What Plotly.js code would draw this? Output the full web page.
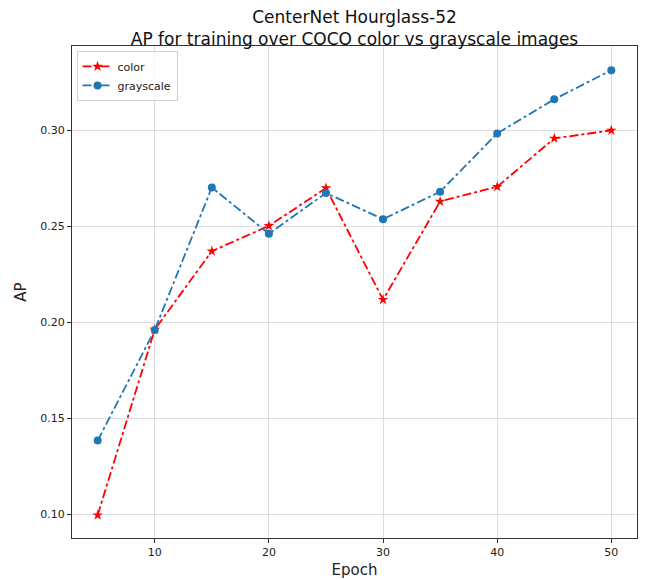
<!DOCTYPE html>
<html>
<head>
<meta charset="utf-8">
<script src="https://cdn.plot.ly/plotly-3.0.1.min.js"></script>
<style>html,body{margin:0;padding:0;background:#fff;}#chart{width:645px;height:580px;}</style>
</head>
<body>
<div id="chart"></div>
<script>
const epochs = [5, 10, 15, 20, 25, 30, 35, 40, 45, 50];
const colorAP = [0.0994, 0.1962, 0.2371, 0.2503, 0.2700, 0.2118, 0.2630, 0.2707, 0.2959, 0.3001];
const grayAP = [0.1383, 0.1960, 0.2703, 0.2462, 0.2674, 0.2538, 0.2681, 0.2985, 0.3163, 0.3315];
const seriesNames = ["color", "grayscale"];
const xTicks = [10, 20, 30, 40, 50];
const yTicks = [0.10, 0.15, 0.20, 0.25, 0.30];

const font = "DejaVu Sans, sans-serif";
const traces = [
  {
    x: epochs, y: colorAP, name: seriesNames[0], type: "scatter", mode: "lines+markers",
    line: {color: "#ff0000", width: 1.8, dash: "dashdot"},
    marker: {symbol: "star", size: 8, color: "#ff0000"}
  },
  {
    x: epochs, y: grayAP, name: seriesNames[1], type: "scatter", mode: "lines+markers",
    line: {color: "#1f77b4", width: 1.8, dash: "dashdot"},
    marker: {symbol: "circle", size: 8, color: "#1f77b4"}
  }
];

const layout = {
  width: 645, height: 580,
  margin: {l: 72, r: 8, t: 46, b: 42},
  paper_bgcolor: "#fff", plot_bgcolor: "#fff",
  font: {family: font, color: "#222"},
  title: {
    text: "CenterNet Hourglass-52<br>AP for training over COCO color vs grayscale images",
    font: {family: font, size: 17, color: "#111"},
    xref: "paper", x: 0.5, xanchor: "center",
    yref: "container", y: 0.96, yanchor: "top"
  },
  xaxis: {
    range: [2.75, 52.25], tickvals: xTicks, ticktext: xTicks.map(String),
    showgrid: true, gridcolor: "#dcdcdc", gridwidth: 1, zeroline: false,
    showline: true, linecolor: "#333", linewidth: 1, mirror: true,
    ticks: "outside", ticklen: 4, tickcolor: "#333",
    tickfont: {family: font, size: 11, color: "#222"},
    title: {text: "Epoch", font: {family: font, size: 15, color: "#222"}, standoff: 6}
  },
  yaxis: {
    range: [0.0875, 0.3441], tickvals: yTicks, ticktext: yTicks.map(v => v.toFixed(2)),
    showgrid: true, gridcolor: "#dcdcdc", gridwidth: 1, zeroline: false,
    showline: true, linecolor: "#333", linewidth: 1, mirror: true,
    ticks: "outside", ticklen: 4, tickcolor: "#333",
    tickfont: {family: font, size: 11, color: "#222"},
    title: {text: "AP", font: {family: font, size: 15, color: "#222"}, standoff: 10}
  },
  showlegend: true,
  legend: {
    x: 0.008, y: 0.99, xanchor: "left", yanchor: "top",
    bgcolor: "rgba(255,255,255,0.8)", bordercolor: "#d0d0d0", borderwidth: 1,
    font: {family: font, size: 11, color: "#222"},
    itemwidth: 30, tracegroupgap: 2
  }
};

Plotly.newPlot("chart", traces, layout, {displayModeBar: false, staticPlot: true});
</script>
</body>
</html>
